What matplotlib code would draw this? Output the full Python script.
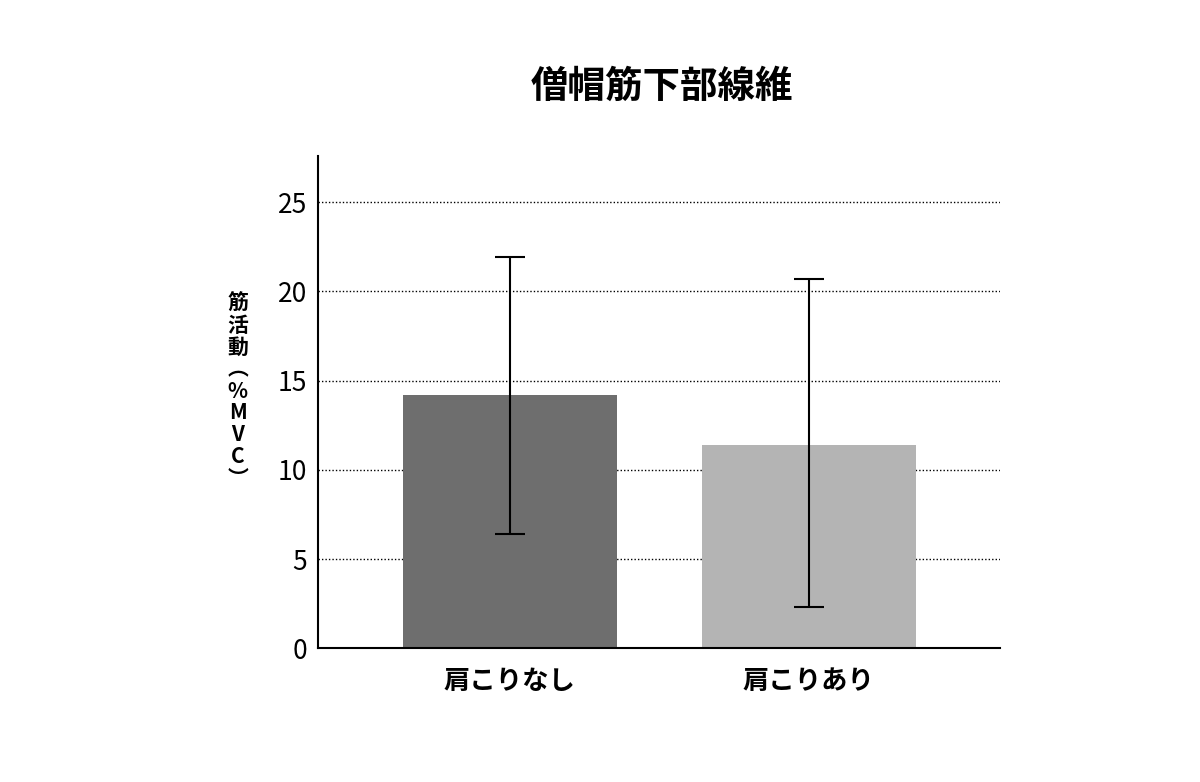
import numpy as np
import matplotlib
matplotlib.use("Agg")
from matplotlib import pyplot as plt

plt.rcParams['font.family'] = ['Noto Sans CJK JP', 'DejaVu Sans']

categories = ["肩こりなし", "肩こりあり"]
means = [14.2, 11.4]
err_low = [6.4, 2.3]
err_high = [21.9, 20.7]
colors = ["#6e6e6e", "#b4b4b4"]

fig = plt.figure(figsize=(12, 7.82), dpi=100)
ax = fig.add_axes([0.265, 0.171, 0.568, 0.630])

x = np.arange(len(categories))
yerr = [np.array(means) - np.array(err_low), np.array(err_high) - np.array(means)]
ax.bar(x, means, width=0.716, color=colors, zorder=2)
ax.errorbar(x, means, yerr=yerr, fmt='none', ecolor='black', elinewidth=1.5,
            capsize=11, capthick=1.5, zorder=3)

ax.set_xlim(-0.642, 1.639)
ax.set_ylim(0, 27.6)
ax.set_yticks([0, 5, 10, 15, 20, 25])
for v in [5, 10, 15, 20, 25]:
    ax.axhline(v, color='black', linestyle=(0, (1, 1.5)), linewidth=1, zorder=1)
ax.set_xticks(x)
ax.set_xticklabels(categories, fontsize=19, fontweight='bold')
ax.tick_params(axis='y', labelsize=19, length=0, pad=8)
ax.tick_params(axis='x', length=0, pad=14)
for s in ['top', 'right']:
    ax.spines[s].set_visible(False)
ax.spines['left'].set_linewidth(1.5)
ax.spines['bottom'].set_linewidth(1.5)

fig.text(0.198, 0.5, "筋\n活\n動\n︵\n%\nM\nV\nC\n︶", ha='center', va='center',
         fontsize=15, fontweight='bold', linespacing=1.05)
fig.text(0.552, 0.89, "僧帽筋下部線維", ha='center', va='center',
         fontsize=27, fontweight='bold')

fig.savefig("out.png", dpi=100)
